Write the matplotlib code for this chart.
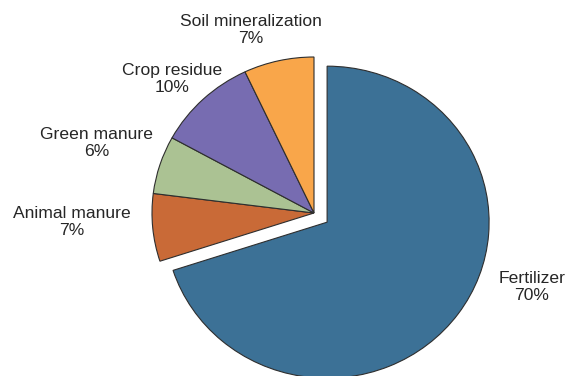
import matplotlib.pyplot as plt

categories = ['Fertilizer', 'Animal manure', 'Green manure', 'Crop residue', 'Soil mineralization']
shares = [70, 7, 6, 10, 7]
colors = ['#3c7196', '#c96a37', '#abc293', '#776cb1', '#f9a64a']
explode = [0.1, 0, 0, 0, 0]

# label centres in figure pixels (x from left, y from top)
label_pos = [(532, 287), (72, 222), (97, 143), (172, 79), (251, 30)]

W, H = 566, 376
fig = plt.figure(figsize=(W / 100, H / 100), dpi=100)
ax = fig.add_axes([0, 0, 1, 1])

wedges, _ = ax.pie(shares, colors=colors, explode=explode, startangle=90,
                   counterclock=False,
                   wedgeprops=dict(edgecolor='#2e2e2e', linewidth=0.8))

# pie centre at (314, 213) px, slightly wider than tall
cx, cy, rx, ry = 314, 213, 162, 156
ax.set_aspect('auto')
ax.set_xlim(-cx / rx, (W - cx) / rx)
ax.set_ylim(-(H - cy) / ry, cy / ry)
ax.axis('off')

for name, val, (px, py) in zip(categories, shares, label_pos):
    fig.text(px / W, 1 - py / H, f'{name}\n{val}%', ha='center', va='center',
             fontsize=12.6, family='Liberation Sans', color='#262626',
             linespacing=1.12)

fig.savefig('out.png', dpi=100)
